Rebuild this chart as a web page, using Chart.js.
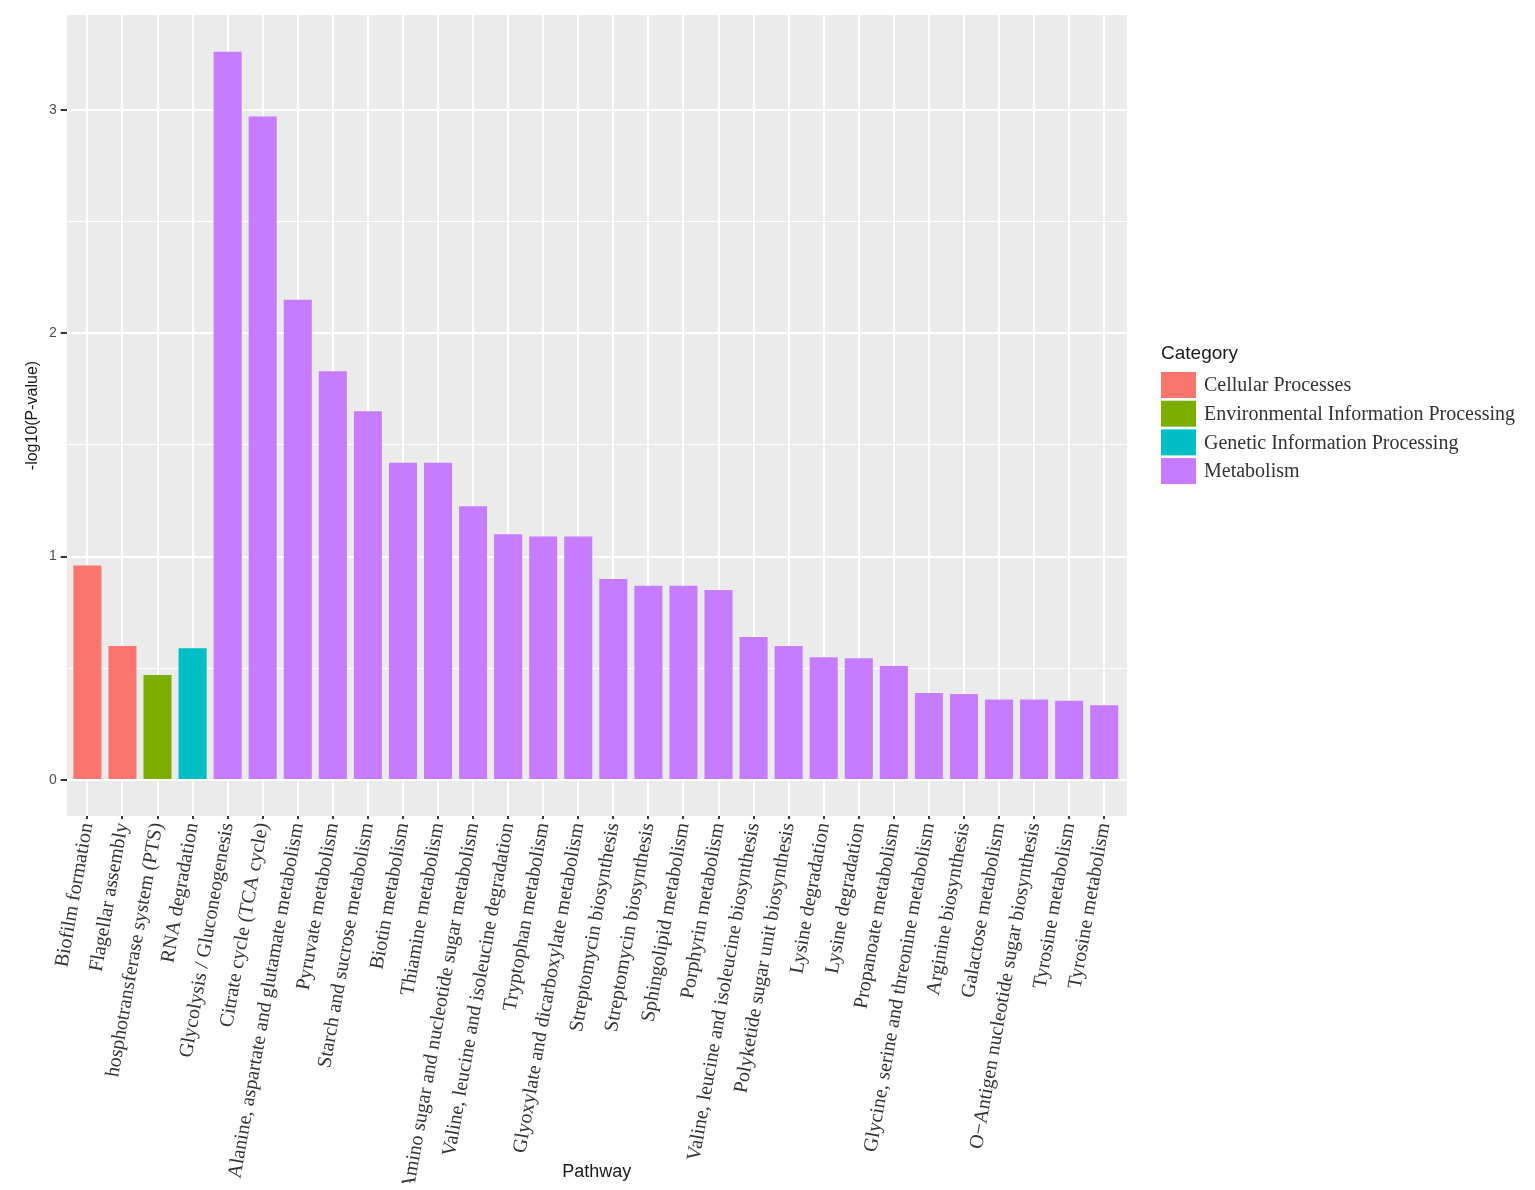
<!DOCTYPE html>
<html>
<head>
<meta charset="utf-8">
<script src="https://cdn.jsdelivr.net/npm/chart.js@4.4.1/dist/chart.umd.min.js"></script>
<style>
  html, body { margin: 0; padding: 0; background: #fff; }
  #wrap { width: 1535px; height: 1190px; }
</style>
</head>
<body>
<div id="wrap"><canvas id="grafica" width="1535" height="1190"></canvas></div>
<script>
// datos
const pathways = [
  'Biofilm formation', 'Flagellar assembly', 'hosphotransferase system (PTS)', 'RNA degradation',
  'Glycolysis / Gluconeogenesis', 'Citrate cycle (TCA cycle)', 'Alanine, aspartate and glutamate metabolism',
  'Pyruvate metabolism', 'Starch and sucrose metabolism', 'Biotin metabolism', 'Thiamine metabolism',
  'Amino sugar and nucleotide sugar metabolism', 'Valine, leucine and isoleucine degradation',
  'Tryptophan metabolism', 'Glyoxylate and dicarboxylate metabolism', 'Streptomycin biosynthesis',
  'Streptomycin biosynthesis', 'Sphingolipid metabolism', 'Porphyrin metabolism',
  'Valine, leucine and isoleucine biosynthesis', 'Polyketide sugar unit biosynthesis', 'Lysine degradation',
  'Lysine degradation', 'Propanoate metabolism', 'Glycine, serine and threonine metabolism',
  'Arginine biosynthesis', 'Galactose metabolism', 'O\u2212Antigen nucleotide sugar biosynthesis',
  'Tyrosine metabolism', 'Tyrosine metabolism'
];
const pvalues = [
  0.96, 0.60, 0.47, 0.59,
  3.26, 2.97, 2.15, 1.83, 1.65, 1.42, 1.42, 1.225, 1.10, 1.09, 1.09, 0.90, 0.87, 0.87, 0.85,
  0.64, 0.60, 0.55, 0.545, 0.51, 0.39, 0.385, 0.36, 0.36, 0.355, 0.335
];
const pathCategory = [0, 0, 1, 2].concat(new Array(26).fill(3));
const categories = ['Cellular Processes', 'Environmental Information Processing', 'Genetic Information Processing', 'Metabolism'];
const categoryColors = ['#F8766D', '#7CAE00', '#00BFC4', '#C77CFF'];
const yTickLabels = [0, 1, 2, 3];
const yGridValues = [0, 0.5, 1, 1.5, 2, 2.5, 3];

// un dataset por categoria para la leyenda
const datasets = categories.map((cat, c) => ({
  label: cat,
  backgroundColor: categoryColors[c],
  data: pvalues
    .map((v, i) => ({ x: i, y: v, c: pathCategory[i] }))
    .filter(p => p.c === c)
    .map(p => ({ x: p.x, y: p.y })),
  barPercentage: 0.8,
  categoryPercentage: 1,
  grouped: false
}));

// fondo gris del panel (estilo ggplot)
const fondoPanel = {
  id: 'fondoPanel',
  beforeDraw(chart) {
    const { ctx, chartArea: a } = chart;
    ctx.save();
    ctx.fillStyle = '#EBEBEB';
    ctx.fillRect(a.left, a.top, a.right - a.left, a.bottom - a.top);
    ctx.restore();
  }
};

// leyenda a la derecha
const leyenda = {
  id: 'leyenda',
  afterDraw(chart) {
    const ctx = chart.ctx;
    const x0 = chart.chartArea.right + 34;
    ctx.save();
    ctx.textBaseline = 'middle';
    ctx.textAlign = 'left';
    ctx.fillStyle = '#1a1a1a';
    ctx.font = '19px "Liberation Sans", Arial, sans-serif';
    ctx.fillText('Category', x0, 354);
    chart.data.datasets.forEach((ds, i) => {
      const top = 372 + i * 28.7;
      ctx.fillStyle = ds.backgroundColor;
      ctx.fillRect(x0, top, 35, 26);
      ctx.fillStyle = '#333';
      ctx.font = '20px "Liberation Serif", "Times New Roman", serif';
      ctx.fillText(ds.label, x0 + 43, top + 14);
    });
    ctx.restore();
  }
};

const ctx = document.getElementById('grafica').getContext('2d');
const myChart = new Chart(ctx, {
  type: 'bar',
  data: { datasets: datasets },
  options: {
    responsive: false,
    animation: false,
    layout: { padding: { left: 0, top: 15, right: 408, bottom: 7 } },
    plugins: { legend: { display: false }, tooltip: { enabled: false } },
    scales: {
      x: {
        type: 'linear',
        min: -0.59,
        max: 29.65,
        offset: false,
        afterBuildTicks: scale => { scale.ticks = pathways.map((p, i) => ({ value: i })); },
        afterFit: scale => { scale.height = 367; },
        ticks: {
          autoSkip: false,
          minRotation: 80,
          maxRotation: 80,
          padding: 2,
          color: '#333',
          font: { family: '"Liberation Serif", "Times New Roman", serif', size: 20 },
          callback: (value, index) => pathways[index]
        },
        grid: {
          offset: false,
          color: '#FFFFFF',
          lineWidth: 2,
          tickLength: 3,
          tickColor: '#333'
        },
        border: { display: false },
        title: {
          display: true,
          text: 'Pathway',
          color: '#1a1a1a',
          font: { family: '"Liberation Sans", Arial, sans-serif', size: 18 },
          padding: { top: 0, bottom: 0 }
        }
      },
      y: {
        min: -0.161,
        max: 3.424,
        afterBuildTicks: scale => { scale.ticks = yGridValues.map(v => ({ value: v })); },
        afterFit: scale => { scale.width = 66.7; },
        ticks: {
          padding: 4,
          color: '#4D4D4D',
          font: { family: '"Liberation Sans", Arial, sans-serif', size: 14 },
          callback: value => yTickLabels.includes(value) ? String(value) : ''
        },
        grid: {
          color: '#FFFFFF',
          lineWidth: c => (yTickLabels.includes(c.tick.value) ? 2 : 1),
          tickLength: 6,
          tickColor: c => (yTickLabels.includes(c.tick.value) ? '#333' : 'rgba(0,0,0,0)')
        },
        border: { display: false },
        title: {
          display: true,
          text: '-log10(P-value)',
          color: '#1a1a1a',
          font: { family: '"Liberation Sans", Arial, sans-serif', size: 16 },
          padding: { top: 23, bottom: 0 }
        }
      }
    }
  },
  plugins: [fondoPanel, leyenda]
});
</script>
</body>
</html>
